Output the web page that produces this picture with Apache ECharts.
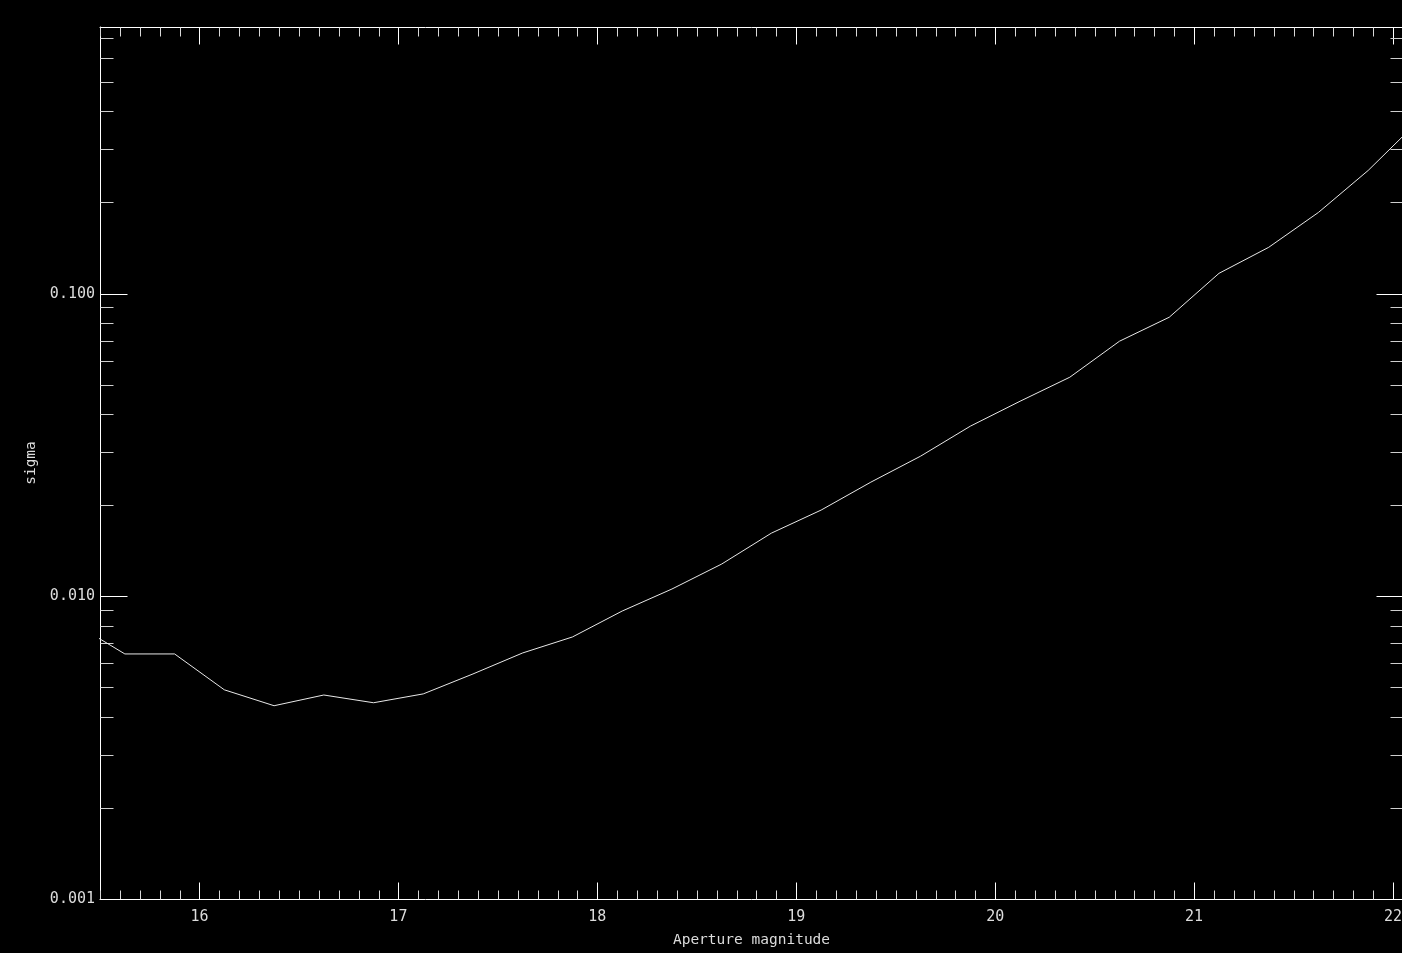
<!DOCTYPE html>
<html>
<head>
<meta charset="utf-8">
<script src="https://cdn.jsdelivr.net/npm/echarts@6/dist/echarts.min.js"></script>
<style>html,body{margin:0;padding:0;background:#000;}#c{width:1402px;height:953px;}</style>
</head>
<body>
<div id="c"></div>
<script>
// ---- data ----
const magnitudes = [15.375, 15.625, 15.875, 16.125, 16.375, 16.625, 16.875, 17.125, 17.375, 17.625,
  17.875, 18.125, 18.375, 18.625, 18.875, 19.125, 19.375, 19.625, 19.875, 20.125,
  20.375, 20.625, 20.875, 21.125, 21.375, 21.625, 21.875, 22.125];
const sigmas = [0.00810, 0.00645, 0.00645, 0.00491, 0.00435, 0.00472, 0.00445, 0.00476, 0.00554, 0.00650,
  0.00734, 0.00894, 0.01057, 0.01278, 0.01617, 0.01927, 0.02383, 0.02904, 0.03648, 0.04410,
  0.05294, 0.06963, 0.08356, 0.11668, 0.14223, 0.18547, 0.25521, 0.37034];
const xTickLabels = [16, 17, 18, 19, 20, 21, 22];
const yTickLabels = [0.001, 0.010, 0.100];
const xRange = [15.5, 22.05];
const yRange = [0.001, 0.76];
const xTitle = 'Aperture magnitude';
const yTitle = 'sigma';

// tick positions (axis decoration)
const xMinorTicks = [];
for (let i = Math.round(xRange[0] * 10); i <= Math.round(xRange[1] * 10); i++) {
  if (i % 10 !== 0) xMinorTicks.push(i / 10);
}
const yMinorTicks = [];
[0.001, 0.01, 0.1].forEach(d => { for (let m = 2; m <= 9; m++) { const v = m * d; if (v < yRange[1]) yMinorTicks.push(v); } });

const lineData = magnitudes.map((m, i) => [m, sigmas[i]]);

const TXT = '#dcdcdc';
const FONT = 'DejaVu Sans Mono';

const chart = echarts.init(document.getElementById('c'), null, { renderer: 'canvas' });

function renderTicks(params, api) {
  const children = [];
  const bl = api.coord([xRange[0], yRange[0]]);
  const tr = api.coord([xRange[1], yRange[1]]);
  const yb = Math.round(bl[1]) + 0.5, yt = Math.round(tr[1]) + 0.5;
  const xl = Math.round(bl[0]) + 0.5, xr = Math.round(tr[0]) + 0.5;
  function seg(x1, y1, x2, y2, c) {
    children.push({ type: 'line', shape: { x1, y1, x2, y2 }, style: { stroke: c, lineWidth: 1 }, silent: true });
  }
  xTickLabels.forEach(v => {
    const x = Math.round(api.coord([v, yRange[0]])[0]) + 0.5;
    seg(x, yb, x, yb - 17, '#ffffff');
    seg(x, yt, x, yt + 17, '#ffffff');
  });
  xMinorTicks.forEach(v => {
    const x = Math.round(api.coord([v, yRange[0]])[0]) + 0.5;
    seg(x, yb, x, yb - 9, '#d8d8d8');
    seg(x, yt, x, yt + 9, '#d8d8d8');
  });
  yTickLabels.forEach(v => {
    const y = Math.round(api.coord([xRange[0], v])[1]) + 0.5;
    seg(xl, y, xl + 27, y, '#ffffff');
    seg(xr, y, xr - 27, y, '#ffffff');
  });
  yMinorTicks.forEach(v => {
    const y = Math.round(api.coord([xRange[0], v])[1]) + 0.5;
    seg(xl, y, xl + 13, y, '#cfcfcf');
    seg(xr, y, xr - 13, y, '#cfcfcf');
  });
  return { type: 'group', children };
}

const isInt = v => Math.abs(v - Math.round(v)) < 1e-6;

chart.setOption({
  backgroundColor: '#000000',
  animation: false,
  grid: { left: 100, top: 27, width: 1303, height: 872, containLabel: false, outerBoundsMode: 'none' },
  xAxis: [
    {
      type: 'value', position: 'bottom', min: xRange[0], max: xRange[1], interval: 0.5,
      axisLine: { show: true, lineStyle: { color: '#ffffff', width: 1 } },
      axisTick: { show: false }, minorTick: { show: false }, splitLine: { show: false },
      axisLabel: {
        color: TXT, fontFamily: FONT, fontSize: 15, margin: 11,
        showMinLabel: true, showMaxLabel: true,
        formatter: v => isInt(v) && xTickLabels.indexOf(Math.round(v)) >= 0 ? String(Math.round(v)) : ''
      },
      name: xTitle, nameLocation: 'middle', nameGap: 34,
      nameTextStyle: { color: TXT, fontFamily: FONT, fontSize: 14.5 }
    },
    {
      type: 'value', position: 'top', min: xRange[0], max: xRange[1], interval: 0.5,
      axisLine: { show: true, onZero: false, lineStyle: { color: '#ffffff', width: 1 } },
      axisTick: { show: false }, axisLabel: { show: false }, splitLine: { show: false }
    }
  ],
  yAxis: [
    {
      type: 'log', logBase: 10, position: 'left', min: yRange[0], max: yRange[1],
      axisLine: { show: true, onZero: false, lineStyle: { color: '#ffffff', width: 1 } },
      axisTick: { show: false }, minorTick: { show: false }, splitLine: { show: false },
      axisLabel: {
        color: TXT, fontFamily: FONT, fontSize: 15, margin: 5,
        formatter: v => { const l = Math.log10(v); return isInt(l) ? v.toFixed(3) : ''; }
      },
      name: yTitle, nameLocation: 'middle', nameGap: 59, nameRotate: 90,
      nameTextStyle: { color: TXT, fontFamily: FONT, fontSize: 14.5 }
    },
    {
      type: 'log', logBase: 10, position: 'right', min: yRange[0], max: yRange[1],
      axisLine: { show: true, onZero: false, lineStyle: { color: '#ffffff', width: 1 } },
      axisTick: { show: false }, axisLabel: { show: false }, splitLine: { show: false }
    }
  ],
  series: [
    {
      type: 'line', xAxisIndex: 0, yAxisIndex: 0, data: lineData,
      showSymbol: false, symbol: 'none', clip: true,
      lineStyle: { color: '#e8e8e8', width: 1 }, silent: true
    },
    {
      type: 'custom', xAxisIndex: 0, yAxisIndex: 0, data: [[16, 0.01]],
      renderItem: renderTicks, silent: true, clip: false
    }
  ]
});
</script>
</body>
</html>
